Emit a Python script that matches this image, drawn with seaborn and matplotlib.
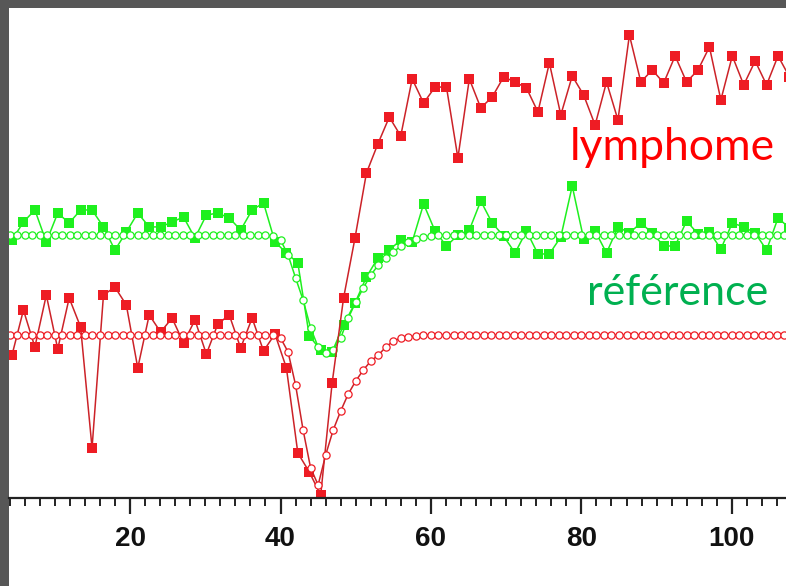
import numpy as np
import pandas as pd
import matplotlib
matplotlib.use("Agg")
import matplotlib.pyplot as plt
from matplotlib.patches import Rectangle
from matplotlib.ticker import MultipleLocator
import seaborn as sns

# Acquisition: one frame every 1.52 s, first frame at 4.3 s
FIRST_FRAME = 4.3
FRAME_INTERVAL = 1.52

# Measured signal, lymphoma region (red)
lymphome_signal = [
    87.7, 115.3, 92.6, 124.5, 91.4, 122.7, 104.9, 30.7, 124.5, 129.4,
    118.4, 79.8, 112.3, 101.8, 110.4, 95.1, 109.2, 88.3, 106.7, 112.3,
    92.0, 110.4, 90.2, 100.6, 79.8, 27.6, 16.0, 1.8, 70.6, 122.7,
    159.5, 199.4, 217.2, 233.7, 222.1, 257.1, 242.3, 252.1, 252.1, 208.6,
    257.1, 239.3, 246.0, 258.3, 255.2, 251.5, 236.8, 266.9, 235.0, 258.9,
    247.2, 228.8, 255.2, 231.9, 284.0, 255.2, 262.6, 254.6, 271.2, 255.2,
    262.6, 276.7, 244.2, 271.2, 253.4, 268.1, 253.4, 271.2, 258.3,
]

# Measured signal, reference region (green)
reference_signal = [
    158.3, 169.3, 176.7, 157.1, 174.8, 168.7, 176.7, 176.7, 166.3, 152.1,
    163.2, 174.8, 166.3, 166.3, 169.3, 172.4, 159.5, 173.6, 174.8, 171.8,
    164.4, 176.7, 181.0, 157.1, 150.3, 144.2, 99.4, 90.8, 89.6, 106.1,
    119.6, 135.6, 147.2, 152.1, 158.3, 157.1, 180.4, 163.8, 154.6, 161.3,
    164.4, 182.2, 168.7, 160.7, 150.3, 163.8, 149.7, 149.7, 160.1, 191.4,
    158.9, 163.8, 150.3, 166.3, 162.6, 168.7, 162.6, 154.6, 154.6, 169.9,
    162.0, 163.2, 152.8, 168.7, 166.3, 162.6, 152.1, 171.8, 165.6,
]

# Fitted first-pass curves, evaluated every second from t = 4 to 107 s
fit_time = list(range(4, 108))
lymphome_fit = (
    [100.0] * 36
    + [98.2, 89.6, 69.3, 41.7, 18.4, 8.0, 26.4, 41.7, 53.4, 63.8,
       71.8, 78.5, 84.0, 87.7, 92.6, 96.3, 98.2, 98.8, 99.4, 100.0]
    + [100.0] * 48
)
reference_fit = (
    [161.3] * 35
    + [160.7, 158.3, 149.1, 135.0, 121.5, 104.3, 92.6, 89.0, 90.8, 98.2,
       110.4, 120.2, 128.8, 136.8, 142.9, 147.2, 150.9, 154.6, 157.1, 158.9,
       160.1, 160.7]
    + [161.3] * 47
)

xticks = [20, 40, 60, 80, 100]

RED_LINE = "#cc2228"
RED = "#ee1c24"
GREEN = "#1ef01e"

frame_time = FIRST_FRAME + FRAME_INTERVAL * np.arange(len(lymphome_signal))
measured = pd.DataFrame({"t": frame_time,
                         "lymphome": lymphome_signal,
                         "reference": reference_signal})
fitted = pd.DataFrame({"t": fit_time,
                       "lymphome": lymphome_fit,
                       "reference": reference_fit})

sns.set_theme(style="white")

W, H = 786, 586
fig = plt.figure(figsize=(W / 100, H / 100), dpi=100, facecolor="#575757")
fig.patches.append(Rectangle((9 / W, 0), 1 - 9 / W, (H - 8) / H,
                             transform=fig.transFigure, facecolor="white",
                             edgecolor="none", zorder=-5))
ax = fig.add_axes([9 / W, 88 / H, (W - 9) / W, 490 / H])
ax.set_facecolor("white")

data_kw = dict(marker="s", markersize=7.2, markeredgewidth=0, linewidth=1.1,
               estimator=None, sort=False, legend=False, ax=ax)
fit_kw = dict(marker="o", markersize=5.2, markerfacecolor="white",
              markeredgewidth=0.9, linewidth=1.1,
              estimator=None, sort=False, legend=False, ax=ax)

sns.lineplot(data=measured, x="t", y="reference", color=GREEN,
             markeredgecolor=GREEN, markerfacecolor=GREEN, **data_kw)
sns.lineplot(data=fitted, x="t", y="reference", color=GREEN,
             markeredgecolor=GREEN, **fit_kw)
sns.lineplot(data=measured, x="t", y="lymphome", color=RED_LINE,
             markeredgecolor=RED, markerfacecolor=RED, **data_kw)
sns.lineplot(data=fitted, x="t", y="lymphome", color=RED_LINE,
             markeredgecolor=RED, **fit_kw)

ax.set_xlim(3.9, 107.2)
ax.set_ylim(0, 300.6)
ax.set_xlabel("")
ax.set_ylabel("")
ax.set_yticks([])
ax.set_xticks(xticks)
ax.set_xticklabels([str(v) for v in xticks], fontweight="bold",
                   fontfamily="Liberation Sans")
ax.xaxis.set_minor_locator(MultipleLocator(2))
ax.tick_params(axis="x", which="major", bottom=True, length=11.5, width=1.6,
               color="#222222", direction="out", pad=9, labelsize=20,
               labelcolor="#111111")
ax.tick_params(axis="x", which="minor", bottom=True, length=5.5, width=1.4,
               color="#222222", direction="out")
for side in ("left", "right", "top"):
    ax.spines[side].set_visible(False)
ax.spines["bottom"].set_color("#222222")
ax.spines["bottom"].set_linewidth(1.6)

fig.text(570 / W, 1 - 160 / H, "lymphome", color="#ff0000",
         fontsize=32, fontfamily="Lato", ha="left", va="baseline")
fig.text(587 / W, 1 - 305 / H, "référence", color="#00b050",
         fontsize=31, fontfamily="Lato", ha="left", va="baseline")

fig.savefig("out.png", dpi=100, facecolor=fig.get_facecolor())
